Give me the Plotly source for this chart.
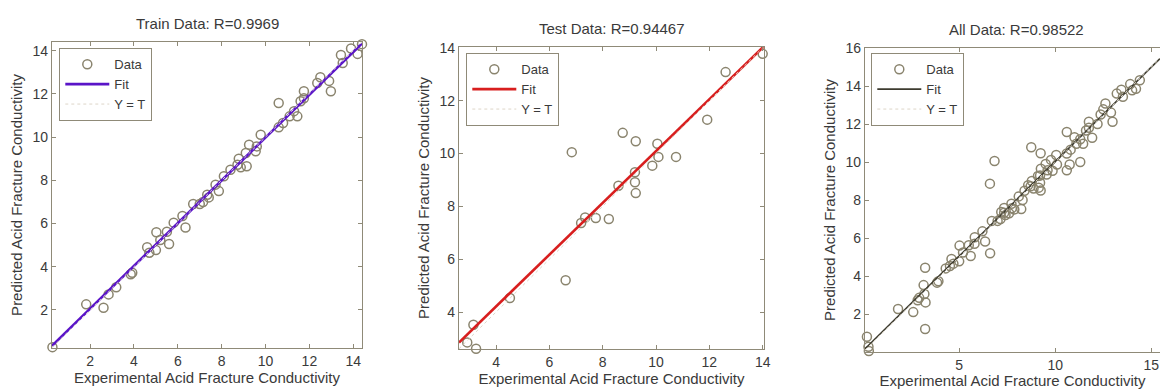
import plotly.graph_objects as go

# ---------------- data ----------------
train_target = [0.28, 1.82, 2.61, 2.84, 3.19, 3.85, 3.92, 4.60, 4.70, 5.00,
                5.02, 5.20, 5.50, 5.60, 5.81, 6.21, 6.35, 6.70, 7.00, 7.15,
                7.34, 7.41, 7.72, 7.87, 8.10, 8.40, 8.72, 8.78, 8.87, 9.10,
                9.14, 9.25, 9.55, 9.60, 9.78, 10.60, 10.60, 10.80, 11.10, 11.30,
                11.45, 11.60, 11.75, 11.75, 12.36, 12.50, 12.90, 12.98, 13.44, 13.52,
                13.90, 14.20, 14.40]
train_output = [0.28, 2.26, 2.10, 2.72, 3.05, 3.65, 3.72, 4.90, 4.65, 4.77,
                5.60, 5.24, 5.62, 5.05, 6.04, 6.35, 5.82, 6.90, 6.90, 7.00,
                7.33, 7.21, 7.80, 7.50, 8.19, 8.49, 8.72, 9.00, 8.60, 9.26,
                8.65, 9.65, 9.34, 9.57, 10.11, 11.58, 10.45, 10.65, 10.96, 11.20,
                10.96, 11.66, 12.12, 11.80, 12.50, 12.77, 12.60, 12.12, 13.80, 13.43,
                14.10, 13.85, 14.30]

test_target = [2.92, 3.25, 3.15, 4.52, 6.61, 6.84, 7.19, 7.34, 7.74, 8.23,
               8.59, 8.75, 9.21, 9.21, 9.24, 9.24, 9.86, 10.05, 10.09, 10.75,
               11.92, 12.61, 14.00]
test_output = [2.85, 2.61, 3.52, 4.53, 5.20, 10.05, 7.37, 7.58, 7.56, 7.52,
               8.78, 10.78, 9.29, 8.91, 8.50, 10.46, 9.54, 10.37, 9.87, 9.87,
               11.28, 13.08, 13.77]

# points only present in the "All Data" panel
val_target = [0.20, 0.30, 3.23, 3.23, 6.60, 10.60, 11.30, 4.30, 5.80, 7.60,
              8.30, 9.50, 11.00, 12.20, 13.20]
val_output = [0.80, 0.05, 4.43, 1.21, 8.86, 9.56, 10.00, 4.40, 5.70, 7.30,
              8.00, 9.90, 11.30, 12.00, 13.60]

all_target = train_target + val_target + test_target
all_output = train_output + val_output + test_output

titles = ["Train Data: R=0.9969", "Test Data: R=0.94467", "All Data: R=0.98522"]
fit_slope = [0.99, 0.98, 0.995]
fit_intercept = [0.08, 0.29, 0.07]
fit_colors = ["#5a14c8", "#d81e1e", "#3d3b2f"]
fit_widths = [2.6, 2.6, 1.6]

x_limits = [[0.26, 14.40], [2.61, 14.05], [0.10, 15.45]]
y_limits = [[0.24, 14.40], [2.60, 14.03], [0.00, 16.00]]
x_tickvals = [[2, 4, 6, 8, 10, 12, 14], [4, 6, 8, 10, 12, 14], [5, 10, 15]]
y_tickvals = [[2, 4, 6, 8, 10, 12, 14], [4, 6, 8, 10, 12, 14],
              [2, 4, 6, 8, 10, 12, 14, 16]]
x_label = "Experimental Acid Fracture Conductivity"
y_label = "Predicted Acid Fracture Conductivity"
legend_names = ["Data", "Fit", "Y = T"]

# ---------------- layout geometry (pixels) ----------------
W, H = 1160, 389
panels_px = [  # x0, x1, ytop, ybottom
    (52, 362, 42, 348),
    (459, 764, 47, 349),
    (865, 1160, 48, 352),
]
title_px = [(207, 24), (612, 29), (1016, 30)]
legend_px = [(59, 48), (466, 53), (871, 53)]

AX = "#8f8a78"
TXT = "#3a3a3a"
MARK = "#8a846e"
FONT = "Liberation Sans, Arial, sans-serif"

data_sets = [(train_target, train_output), (test_target, test_output),
             (all_target, all_output)]

fig = go.Figure()
for i, (tx, ty) in enumerate(data_sets):
    sfx = "" if i == 0 else str(i + 1)
    lg = "legend" + sfx
    xa, ya = "x" + sfx, "y" + sfx
    fig.add_trace(go.Scatter(
        x=tx, y=ty, mode="markers", name=legend_names[0],
        marker=dict(symbol="circle-open", size=9, color=MARK,
                    line=dict(width=1.5, color=MARK)),
        cliponaxis=False, xaxis=xa, yaxis=ya, legend=lg))
    lx = x_limits[i]
    fig.add_trace(go.Scatter(
        x=lx, y=[fit_slope[i] * v + fit_intercept[i] for v in lx],
        mode="lines", name=legend_names[1],
        line=dict(color=fit_colors[i], width=fit_widths[i]),
        xaxis=xa, yaxis=ya, legend=lg))
    fig.add_trace(go.Scatter(
        x=lx, y=lx, mode="lines", name=legend_names[2],
        line=dict(color="#ddd6c8", width=1, dash="dot"),
        xaxis=xa, yaxis=ya, legend=lg))

layout = dict(width=W, height=H, margin=dict(l=0, r=0, t=0, b=0),
              plot_bgcolor="white", paper_bgcolor="white",
              font=dict(family=FONT, size=15, color=TXT), annotations=[])

for i, (x0, x1, yt, yb) in enumerate(panels_px):
    sfx = "" if i == 0 else str(i + 1)
    common = dict(showline=True, linecolor=AX, linewidth=1.3,
                  ticks="inside", ticklen=4, tickcolor=AX, tickwidth=1,
                  showgrid=False, zeroline=False, automargin=False,
                  tickfont=dict(family=FONT, size=14, color=TXT))
    layout["xaxis" + sfx] = dict(
        common, domain=[x0 / W, x1 / W], range=x_limits[i],
        tickvals=x_tickvals[i], mirror="ticks", anchor="y" + sfx,
        title=dict(text=x_label, standoff=4,
                   font=dict(family=FONT, size=15, color=TXT)))
    layout["yaxis" + sfx] = dict(
        common, domain=[1 - yb / H, 1 - yt / H], range=y_limits[i],
        tickvals=y_tickvals[i], mirror=("ticks" if i < 2 else False),
        anchor="x" + sfx,
        title=dict(text=y_label, standoff=6,
                   font=dict(family=FONT, size=15, color=TXT)))
    lxp, lyp = legend_px[i]
    layout["legend" + sfx] = dict(
        x=lxp / W, y=1 - lyp / H, xanchor="left", yanchor="top",
        bordercolor=AX, borderwidth=1.3, bgcolor="white", itemwidth=44,
        font=dict(family=FONT, size=13, color=TXT), tracegroupgap=0)
    tx, ty = title_px[i]
    layout["annotations"].append(dict(
        text=titles[i], x=tx / W, y=1 - ty / H, xref="paper", yref="paper",
        xanchor="center", yanchor="middle", showarrow=False,
        font=dict(family=FONT, size=15, color=TXT)))

fig.update_layout(**layout)
fig.write_html("out.html")
